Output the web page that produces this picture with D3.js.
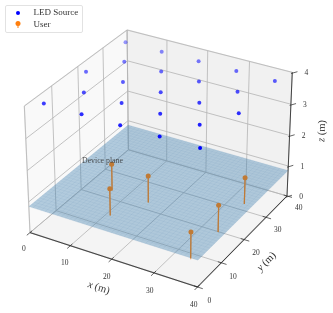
<!DOCTYPE html>
<html>
<head>
<meta charset="utf-8">
<script src="https://cdn.jsdelivr.net/npm/d3@7"></script>
<style>
  html, body { margin: 0; padding: 0; background: #fff; }
  svg { filter: blur(0.35px); }
  text { font-family: "Liberation Serif", "DejaVu Serif", serif; fill: #333; }
</style>
</head>
<body>
<div id="chart"></div>
<script>
// LED positions (staggered rows)
var ledX = [2, 11, 20, 29, 38, 6.5, 15.5, 24.5, 33.5, 2, 11, 20, 29, 38, 6.5, 15.5, 24.5, 33.5, 2, 11, 20, 29, 38];
var ledY = [4, 4, 4, 4, 4, 12, 12, 12, 12, 20, 20, 20, 20, 20, 28, 28, 28, 28, 36, 36, 36, 36, 36];
var ledZ = 3.9;

// user positions on the device plane
var userX = [11.6, 16.4, 20.6, 38.6, 38.6, 38.2];
var userY = [14.1, 5.5, 13.8, 11, -0.4, 23.2];
var userTop = 1.7;
var planeZ = 0.85;

var xTicks = [0, 10, 20, 30, 40];
var yTicks = [0, 10, 20, 30, 40];
var zTicks = [0, 1, 2, 3, 4];

var width = 333, height = 313;

var svg = d3.select('#chart').append('svg')
  .attr('width', width)
  .attr('height', height)
  .style('display', 'block');

// data -> unit box
var sx = d3.scaleLinear().domain([0, 40]).range([0, 1]);
var sy = d3.scaleLinear().domain([0, 40]).range([0, 1]);
var sz = d3.scaleLinear().domain([0, 4]).range([0, 0.75]);

// same view as a default mplot3d axes
var elev = 30 * Math.PI / 180, azim = -60 * Math.PI / 180, dist = 9;
var ctr = [0.5, 0.5, 0.375];
var eye = [ctr[0] + dist * Math.cos(elev) * Math.cos(azim),
           ctr[1] + dist * Math.cos(elev) * Math.sin(azim),
           ctr[2] + dist * Math.sin(elev)];

function view(x, y, z) {
  var p = [sx(x) - eye[0], sy(y) - eye[1], sz(z) - eye[2]];
  var f = [ctr[0] - eye[0], ctr[1] - eye[1], ctr[2] - eye[2]];
  var fl = Math.hypot(f[0], f[1], f[2]);
  f = f.map(function (d) { return d / fl; });
  var r = [f[1], -f[0], 0];
  var rl = Math.hypot(r[0], r[1]);
  r = r.map(function (d) { return d / rl; });
  var u = [r[1] * f[2] - r[2] * f[1], r[2] * f[0] - r[0] * f[2], r[0] * f[1] - r[1] * f[0]];
  var d = p[0] * f[0] + p[1] * f[1] + p[2] * f[2];
  return {
    u: (p[0] * r[0] + p[1] * r[1] + p[2] * r[2]) / d,
    v: (p[0] * u[0] + p[1] * u[1] + p[2] * u[2]) / d,
    d: d
  };
}

// pinned to the box corners in the reference
var px = d3.scaleLinear().domain([view(0, 0, 0).u, view(40, 40, 0).u]).range([30, 287]);
var py = d3.scaleLinear().domain([view(40, 0, 0).v, view(0, 40, 4).v]).range([287, 30]);

function P(x, y, z) {
  var q = view(x, y, z);
  return [px(q.u), py(q.v)];
}

var line = d3.line();
function path3(pts) { return line(pts.map(function (d) { return P(d[0], d[1], d[2]); })); }

function poly(pts, fill, op) {
  return svg.append('path').attr('d', path3(pts) + 'Z').attr('fill', fill).attr('fill-opacity', op).attr('stroke', 'none');
}
function seg(a, b, col, w) {
  return svg.append('path').attr('d', path3([a, b])).attr('fill', 'none').attr('stroke', col).attr('stroke-width', w);
}

// panes
poly([[0, 0, 0], [0, 40, 0], [0, 40, 4], [0, 0, 4]], '#f9f9f9', 1);
poly([[0, 40, 0], [40, 40, 0], [40, 40, 4], [0, 40, 4]], '#f1f1f1', 1);
poly([[0, 0, 0], [40, 0, 0], [40, 40, 0], [0, 40, 0]], '#f4f4f4', 1);

// pane edges
var edgeCol = '#e8e8e8';
seg([0, 0, 4], [0, 40, 4], edgeCol, 1.3);
seg([0, 40, 4], [40, 40, 4], edgeCol, 1.3);
seg([0, 0, 0], [0, 0, 4], edgeCol, 1.3);
seg([0, 40, 0], [0, 40, 4], edgeCol, 1.3);
seg([0, 0, 0], [40, 0, 0], '#cfcfcf', 1.6);
seg([40, 0, 0], [40, 40, 0], '#cfcfcf', 1.6);

// grid
var gridCol = '#b4b4b4';
xTicks.forEach(function (t) {
  seg([t, 0, 0], [t, 40, 0], gridCol, 0.8);
  seg([t, 40, 0], [t, 40, 4], gridCol, 0.8);
});
yTicks.forEach(function (t) {
  seg([0, t, 0], [40, t, 0], gridCol, 0.8);
  seg([0, t, 0], [0, t, 4], gridCol, 0.8);
});
zTicks.forEach(function (t) {
  seg([0, 0, t], [0, 40, t], gridCol, 0.8);
  seg([0, 40, t], [40, 40, t], gridCol, 0.8);
});

// stems sit under the plane surface; bits outside it stay pale orange
userX.forEach(function (x, i) {
  seg([x, userY[i], planeZ], [x, userY[i], userTop], '#f2a668', 1.2);
});

// device plane
var planeCorners = [[0, 0, planeZ], [40, 0, planeZ], [40, 40, planeZ], [0, 40, planeZ]];
poly(planeCorners, '#3f80b0', 0.38);
d3.range(0, 41, 1).forEach(function (t) {
  seg([t, 0, planeZ], [t, 40, planeZ], '#5b8db5', 0.1);
  seg([0, t, planeZ], [40, t, planeZ], '#5b8db5', 0.1);
});

svg.append('clipPath').attr('id', 'planeClip').append('path').attr('d', path3(planeCorners) + 'Z');

var stemCol = '#c07a35';
userX.forEach(function (x, i) {
  seg([x, userY[i], planeZ], [x, userY[i], userTop], stemCol, 1.2).attr('clip-path', 'url(#planeClip)');
  var c = P(x, userY[i], userTop);
  svg.append('circle').attr('cx', c[0]).attr('cy', c[1]).attr('r', 2.5).attr('fill', stemCol);
});

svg.append('text').attr('x', 82).attr('y', 163).attr('font-size', 7.8).attr('fill-opacity', 0.85).text('Device plane');

// LEDs, faded with depth like depthshade
var depth = d3.scaleLinear()
  .domain(d3.extent(ledX.map(function (x, i) { return view(x, ledY[i], ledZ).d; })))
  .range([1, 0.4]);
ledX.forEach(function (x, i) {
  var c = P(x, ledY[i], ledZ);
  svg.append('circle').attr('cx', c[0]).attr('cy', c[1]).attr('r', 2)
    .attr('fill', '#0000ff').attr('fill-opacity', depth(view(x, ledY[i], ledZ).d));
});

// axis lines
var axisCol = '#222';
seg([0, 0, 0], [40, 0, 0], axisCol, 0.8);
seg([40, 0, 0], [40, 40, 0], axisCol, 0.8);
seg([40, 40, 0], [40, 40, 4], axisCol, 0.8);

// ticks and tick labels
function label(pos, t) {
  svg.append('text').attr('x', pos[0]).attr('y', pos[1]).attr('text-anchor', 'middle')
    .attr('dy', '0.35em').attr('font-size', 7.5).text(t);
}
xTicks.forEach(function (t) {
  seg([t, 0.8, 0], [t, -1.2, 0], axisCol, 0.7);
  label(P(t + 2.3, -5.7, 0), t);
});
yTicks.forEach(function (t) {
  seg([39.2, t, 0], [41.2, t, 0], axisCol, 0.7);
  label(P(44.3, t - 3, 0), t);
});
zTicks.forEach(function (t) {
  seg([40, 39.4, t], [40.8, 40.8, t], axisCol, 0.7);
  var q = P(40, 40, t);
  label([q[0] + 14, q[1]], t);
});

// axis titles
function title(x, y, rot, txt) {
  var g = svg.append('text').attr('transform', 'translate(' + x + ',' + y + ') rotate(' + rot + ')')
    .attr('text-anchor', 'middle').attr('dy', '0.35em').attr('font-size', 10.5);
  g.append('tspan').attr('font-style', 'italic').text(txt);
  g.append('tspan').text(' (m)');
}
title(99, 287, 18, 'x');
title(266, 261, -45, 'y');
title(321, 131, -88, 'z');

// legend
var leg = svg.append('g');
leg.append('rect').attr('x', 5.5).attr('y', 5.5).attr('width', 77).attr('height', 27).attr('rx', 1.5)
  .attr('fill', '#fff').attr('fill-opacity', 0.8).attr('stroke', '#d5d5d5').attr('stroke-width', 0.7);
leg.append('circle').attr('cx', 18).attr('cy', 13).attr('r', 2).attr('fill', '#0000ff');
leg.append('path').attr('d', line([[18, 24], [18, 28]])).attr('stroke', '#ff7f0e').attr('stroke-width', 1);
leg.append('circle').attr('cx', 18).attr('cy', 23.5).attr('r', 2.5).attr('fill', '#ff7f0e');
leg.append('text').attr('x', 33.5).attr('y', 15).attr('font-size', 9).text('LED Source');
leg.append('text').attr('x', 33.5).attr('y', 27).attr('font-size', 9).text('User');
</script>
</body>
</html>
